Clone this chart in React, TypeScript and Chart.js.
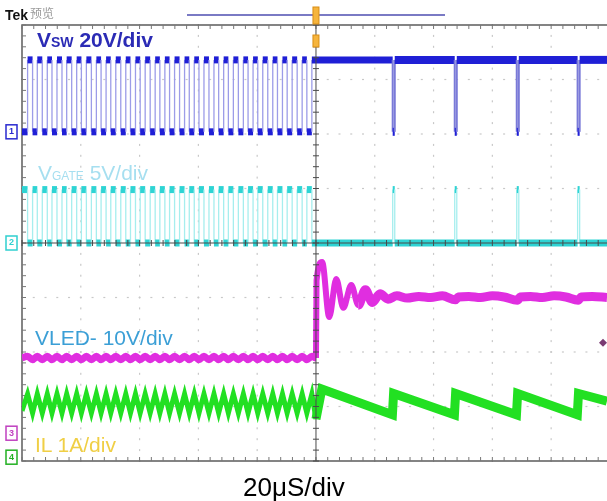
import React, { useEffect, useRef } from "react";
import { Chart, registerables } from "chart.js";
Chart.register(...registerables);

// ---- Time base (µs), 20 µs/div, trigger at 0 ----
const TIME_PER_DIV = 20;
const X_MIN = -100;
const X_MAX = 99;

// ---- Channel settings: units per division and ground level (in divisions) ----
const channelLabels = ["1", "2", "3", "4"];
const unitsPerDiv = [20, 5, 10, 1];
const groundDiv = [2.04, 0, -3.49, -3.93];
const channelColors = ["#2a2ad0", "#2fd0d0", "#c040c0", "#22b022"];

// ---- VSW (V): switching edges read from the capture (µs) ----
const vswRise = [-98.1, -94.8, -91.4, -88.1, -84.8, -81.4, -78.1, -74.7, -71.4, -68.1, -64.7, -61.4, -58.1, -54.7, -51.4, -48.1, -44.7, -41.4, -38.1, -34.7, -31.4, -28.1, -24.7, -21.4, -18.1, -14.7, -11.4, -8.1, -4.7, -1.4];
const vswFall = [-96.4, -93.1, -89.8, -86.4, -83.1, -79.8, -76.4, -73.1, -69.8, -66.4, -63.1, -59.8, -56.4, -53.1, -49.8, -46.4, -43.1, -39.8, -36.4, -33.1, -29.8, -26.4, -23.1, -19.8, -16.4, -13.1, -9.8, -6.4, -3.1];
const vswDipStart = [26.1, 47.2, 68.3, 89.0];
const vswDipEnd = [26.8, 47.9, 69.0, 89.7];
const vswHigh = 26.4;
const vswLow = 0;

// ---- VGATE (V) ----
const vgateHigh = 4.9;
const vgateLow = 0;

// ---- VLED- (V) ----
const vledLeft = 13.8;
const vledRipple = 0.3;
const vledRightT = [0, 0.2, 2.1, 4.5, 6.9, 9.3, 12.0, 14.4, 16.8, 19.2, 21.8, 24.5, 27.5, 31, 35, 39, 43, 47.4, 48.5, 52, 56, 60, 64, 68.5, 69.5, 73, 77, 81, 85, 89.2, 90.3, 94, 99];
const vledRightV = [13.8, 28.0, 31.4, 21.3, 28.3, 23.0, 27.2, 23.5, 26.3, 24.0, 25.6, 24.6, 25.2, 24.8, 25.1, 24.9, 25.2, 24.5, 25.0, 25.1, 24.9, 25.2, 25.0, 24.4, 25.0, 25.1, 24.9, 25.2, 25.0, 24.4, 25.0, 25.1, 24.9];

// ---- IL (A) ----
const ilStart = 0.85;
const ilPeak = 1.16;
const ilTrough = 0.81;
const ilRightT = [0.0, 2.0, 26.0, 26.4, 47.1, 47.5, 68.2, 68.6, 88.9, 89.3, 99];
const ilRightV = [0.70, 1.25, 0.78, 1.17, 0.78, 1.17, 0.78, 1.17, 0.78, 1.17, 1.03];

type P = { x: number; y: number };

function buildVsw(): P[] {
  const pts: P[] = [{ x: X_MIN, y: vswLow }];
  vswRise.forEach((r, i) => {
    pts.push({ x: r, y: vswLow }, { x: r, y: vswHigh });
    if (i < vswFall.length) pts.push({ x: vswFall[i], y: vswHigh }, { x: vswFall[i], y: vswLow });
  });
  vswDipStart.forEach((s, i) => {
    pts.push({ x: s, y: vswHigh }, { x: s, y: vswLow }, { x: vswDipEnd[i], y: vswLow }, { x: vswDipEnd[i], y: vswHigh });
  });
  pts.push({ x: X_MAX, y: vswHigh });
  return pts;
}

function buildVgate(): P[] {
  const pts: P[] = [{ x: X_MIN, y: vgateHigh }];
  vswRise.forEach((r, i) => {
    pts.push({ x: r, y: vgateHigh }, { x: r, y: vgateLow });
    if (i < vswFall.length) pts.push({ x: vswFall[i], y: vgateLow }, { x: vswFall[i], y: vgateHigh });
  });
  vswDipStart.forEach((s, i) => {
    pts.push({ x: s, y: vgateLow }, { x: s, y: vgateHigh }, { x: vswDipEnd[i], y: vgateHigh }, { x: vswDipEnd[i], y: vgateLow });
  });
  pts.push({ x: X_MAX, y: vgateLow });
  return pts;
}

function edgeEvents(): { t: number; rise: boolean }[] {
  const ev = [
    ...vswRise.map((t) => ({ t, rise: true })),
    ...vswFall.map((t) => ({ t, rise: false })),
  ];
  ev.sort((a, b) => a.t - b.t);
  return ev;
}

function buildIl(): P[] {
  const pts: P[] = [{ x: X_MIN, y: ilStart }];
  edgeEvents().forEach((e) => pts.push({ x: e.t, y: e.rise ? ilPeak : ilTrough }));
  ilRightT.forEach((t, i) => pts.push({ x: t, y: ilRightV[i] }));
  return pts;
}

function buildVled(): P[] {
  const pts: P[] = [{ x: X_MIN, y: vledLeft }];
  edgeEvents().forEach((e) => pts.push({ x: e.t, y: vledLeft + (e.rise ? vledRipple : -vledRipple) }));
  vledRightT.forEach((t, i) => pts.push({ x: t, y: vledRightV[i] }));
  return pts;
}

const isVertical = (c: any) => c.p0 && c.p1 && c.p0.parsed && c.p1.parsed && c.p0.parsed.x === c.p1.parsed.x;

const scopePlugin = {
  id: "scope",
  beforeDatasetsDraw(chart: any) {
    const { ctx, chartArea: a, scales } = chart;
    const xs = scales.x;
    const yd = scales.yDiv;
    ctx.save();
    // dotted graticule
    ctx.fillStyle = "#c8c8c8";
    for (let d = -4; d <= 4; d++) {
      if (d === 0) continue;
      const px = xs.getPixelForValue(d * TIME_PER_DIV);
      for (let m = -20; m <= 20; m++) {
        const py = yd.getPixelForValue(m * 0.2);
        ctx.fillRect(px - 0.6, py - 1, 1.2, 2);
      }
    }
    for (let k = -3; k <= 3; k++) {
      if (k === 0) continue;
      const py = yd.getPixelForValue(k);
      for (let m = -25; m <= 25; m++) {
        const px = xs.getPixelForValue(m * TIME_PER_DIV * 0.2);
        if (px > a.right) continue;
        ctx.fillRect(px - 1, py - 0.6, 2, 1.2);
      }
    }
    // border
    ctx.strokeStyle = "#5c5c5c";
    ctx.lineWidth = 1.5;
    ctx.beginPath();
    ctx.moveTo(a.right, a.top);
    ctx.lineTo(a.left, a.top);
    ctx.lineTo(a.left, a.bottom);
    ctx.lineTo(a.right, a.bottom);
    ctx.stroke();
    // border ticks
    ctx.strokeStyle = "#777";
    ctx.lineWidth = 1;
    ctx.beginPath();
    for (let m = -25; m <= 25; m++) {
      const px = xs.getPixelForValue(m * TIME_PER_DIV * 0.2);
      if (px > a.right) continue;
      ctx.moveTo(px, a.top);
      ctx.lineTo(px, a.top + 4);
      ctx.moveTo(px, a.bottom);
      ctx.lineTo(px, a.bottom - 4);
    }
    for (let m = -20; m <= 20; m++) {
      const py = yd.getPixelForValue(m * 0.2);
      ctx.moveTo(a.left, py);
      ctx.lineTo(a.left + 4, py);
    }
    ctx.stroke();
    ctx.restore();
  },
  afterDatasetsDraw(chart: any) {
    const { ctx, chartArea: a, scales } = chart;
    const xs = scales.x;
    const yd = scales.yDiv;
    const cx = xs.getPixelForValue(0);
    const cy = yd.getPixelForValue(0);
    ctx.save();
    // center cross with minor ticks
    ctx.strokeStyle = "#4a4a4a";
    ctx.lineWidth = 1;
    ctx.beginPath();
    ctx.moveTo(cx, a.top);
    ctx.lineTo(cx, a.bottom);
    ctx.moveTo(a.left, cy);
    ctx.lineTo(a.right, cy);
    for (let m = -20; m <= 20; m++) {
      const py = yd.getPixelForValue(m * 0.2);
      ctx.moveTo(cx - 3, py);
      ctx.lineTo(cx + 3, py);
    }
    for (let m = -25; m <= 25; m++) {
      const px = xs.getPixelForValue(m * TIME_PER_DIV * 0.2);
      if (px > a.right) continue;
      ctx.moveTo(px, cy - 3);
      ctx.lineTo(px, cy + 3);
    }
    ctx.stroke();
    // record-view bar
    ctx.strokeStyle = "#7a7ac4";
    ctx.lineWidth = 2;
    ctx.beginPath();
    ctx.moveTo(187, 15);
    ctx.lineTo(445, 15);
    ctx.stroke();
    // trigger markers
    ctx.fillStyle = "#f6b43c";
    ctx.strokeStyle = "#d98e14";
    ctx.lineWidth = 1;
    ctx.fillRect(cx - 3, 7, 6, 17);
    ctx.strokeRect(cx - 3, 7, 6, 17);
    ctx.fillRect(cx - 3, 35, 6, 12);
    ctx.strokeRect(cx - 3, 35, 6, 12);
    // channel ground markers
    ctx.font = "bold 9px 'Liberation Sans', Arial, sans-serif";
    ctx.textAlign = "center";
    ctx.textBaseline = "middle";
    for (let i = 0; i < 4; i++) {
      const py = scales["y" + (i + 1)].getPixelForValue(0);
      ctx.fillStyle = "#ffffff";
      ctx.fillRect(6, py - 7, 11, 14);
      ctx.strokeStyle = channelColors[i];
      ctx.lineWidth = 1.5;
      ctx.strokeRect(6, py - 7, 11, 14);
      ctx.fillStyle = channelColors[i];
      ctx.fillText(channelLabels[i], 11.5, py);
    }
    // reference diamond on right edge
    const dy = yd.getPixelForValue(-1.83);
    ctx.fillStyle = "#7a3a72";
    ctx.beginPath();
    ctx.moveTo(a.right - 4, dy - 4);
    ctx.lineTo(a.right, dy);
    ctx.lineTo(a.right - 4, dy + 4);
    ctx.lineTo(a.right - 8, dy);
    ctx.closePath();
    ctx.fill();
    ctx.restore();
  },
};

function axisFor(i: number) {
  return {
    type: "linear" as const,
    display: false,
    min: (-4 - groundDiv[i]) * unitsPerDiv[i],
    max: (4 - groundDiv[i]) * unitsPerDiv[i],
  };
}

export default function App() {
  const ref = useRef<HTMLCanvasElement>(null);
  useEffect(() => {
    const chart = new Chart(ref.current as HTMLCanvasElement, {
      type: "line",
      data: {
        datasets: [
          {
            label: "VSW",
            data: buildVsw(),
            yAxisID: "y1",
            borderColor: "#1f1fd6",
            pointRadius: 0,
            tension: 0,
            borderCapStyle: "butt",
            segment: {
              borderColor: (c: any) => (isVertical(c) ? (c.p0.parsed.x > 0 ? "#7a7ad8" : "#9c9ce8") : "#1f1fd6"),
              borderWidth: (c: any) => (isVertical(c) ? (c.p0.parsed.x > 0 ? 2 : 1.3) : c.p0.parsed.x >= 0 ? 8 : 7),
            },
          },
          {
            label: "VGATE",
            data: buildVgate(),
            yAxisID: "y2",
            borderColor: "#2ed4d4",
            pointRadius: 0,
            tension: 0,
            segment: {
              borderColor: (c: any) => (isVertical(c) ? "#a6eeee" : "#2ed4d4"),
              borderWidth: (c: any) => (isVertical(c) ? 1.3 : 7),
            },
          },
          {
            label: "VLED-",
            data: buildVled(),
            yAxisID: "y3",
            borderColor: "#e02ee0",
            borderWidth: 7,
            pointRadius: 0,
            cubicInterpolationMode: "monotone",
            segment: {
              borderWidth: (c: any) => (c.p0.parsed.x >= 14 ? 9 : c.p0.parsed.x >= 0 ? 6 : 7),
            },
          },
          {
            label: "IL",
            data: buildIl(),
            yAxisID: "y4",
            borderColor: "#22e022",
            borderWidth: 5,
            pointRadius: 0,
            tension: 0,
            segment: {
              borderWidth: (c: any) => (c.p0.parsed.x >= 0 ? 9 : 5),
            },
          },
        ],
      },
      options: {
        responsive: false,
        animation: false,
        devicePixelRatio: 1,
        layout: { padding: { left: 22, top: 25, right: 0, bottom: 40 } },
        plugins: { legend: { display: false }, tooltip: { enabled: false }, title: { display: false } },
        events: [],
        scales: {
          x: { type: "linear", min: X_MIN, max: X_MAX, display: false },
          yDiv: { type: "linear", min: -4, max: 4, display: false },
          y1: axisFor(0),
          y2: axisFor(1),
          y3: axisFor(2),
          y4: axisFor(3),
        },
      } as any,
      plugins: [scopePlugin],
    });
    return () => chart.destroy();
  }, []);

  const font = '"Liberation Sans", Arial, sans-serif';
  const lab: React.CSSProperties = { position: "absolute", fontFamily: font, lineHeight: 1, whiteSpace: "nowrap", fontSize: 21 };
  return (
    <div style={{ position: "absolute", left: 0, top: 0, width: 607, height: 501, background: "#fff", overflow: "hidden" }}>
      <canvas ref={ref} width={607} height={501} style={{ display: "block", width: 607, height: 501 }} />
      <div style={{ ...lab, left: 5, top: 8, fontSize: 14, fontWeight: "bold", color: "#111" }}>Tek</div>
      <div style={{ ...lab, left: 30, top: 7, fontSize: 12, color: "#9a9a9a", fontFamily: '"Noto Sans CJK SC", sans-serif' }}>预览</div>
      <div style={{ ...lab, left: 37, top: 29, fontWeight: "bold", color: "#2b2bb5" }}>
        V<span style={{ fontSize: 14 }}>SW</span> 20V/div
      </div>
      <div style={{ ...lab, left: 38, top: 162, color: "#a6dff0" }}>
        V<span style={{ fontSize: 12 }}>GATE</span> 5V/div
      </div>
      <div style={{ ...lab, left: 35, top: 327, color: "#3b9fd6" }}>VLED- 10V/div</div>
      <div style={{ ...lab, left: 35, top: 434, color: "#f0cf45" }}>IL 1A/div</div>
      <div style={{ ...lab, left: 243, top: 474, fontSize: 26, color: "#000" }}>20μS/div</div>
    </div>
  );
}
